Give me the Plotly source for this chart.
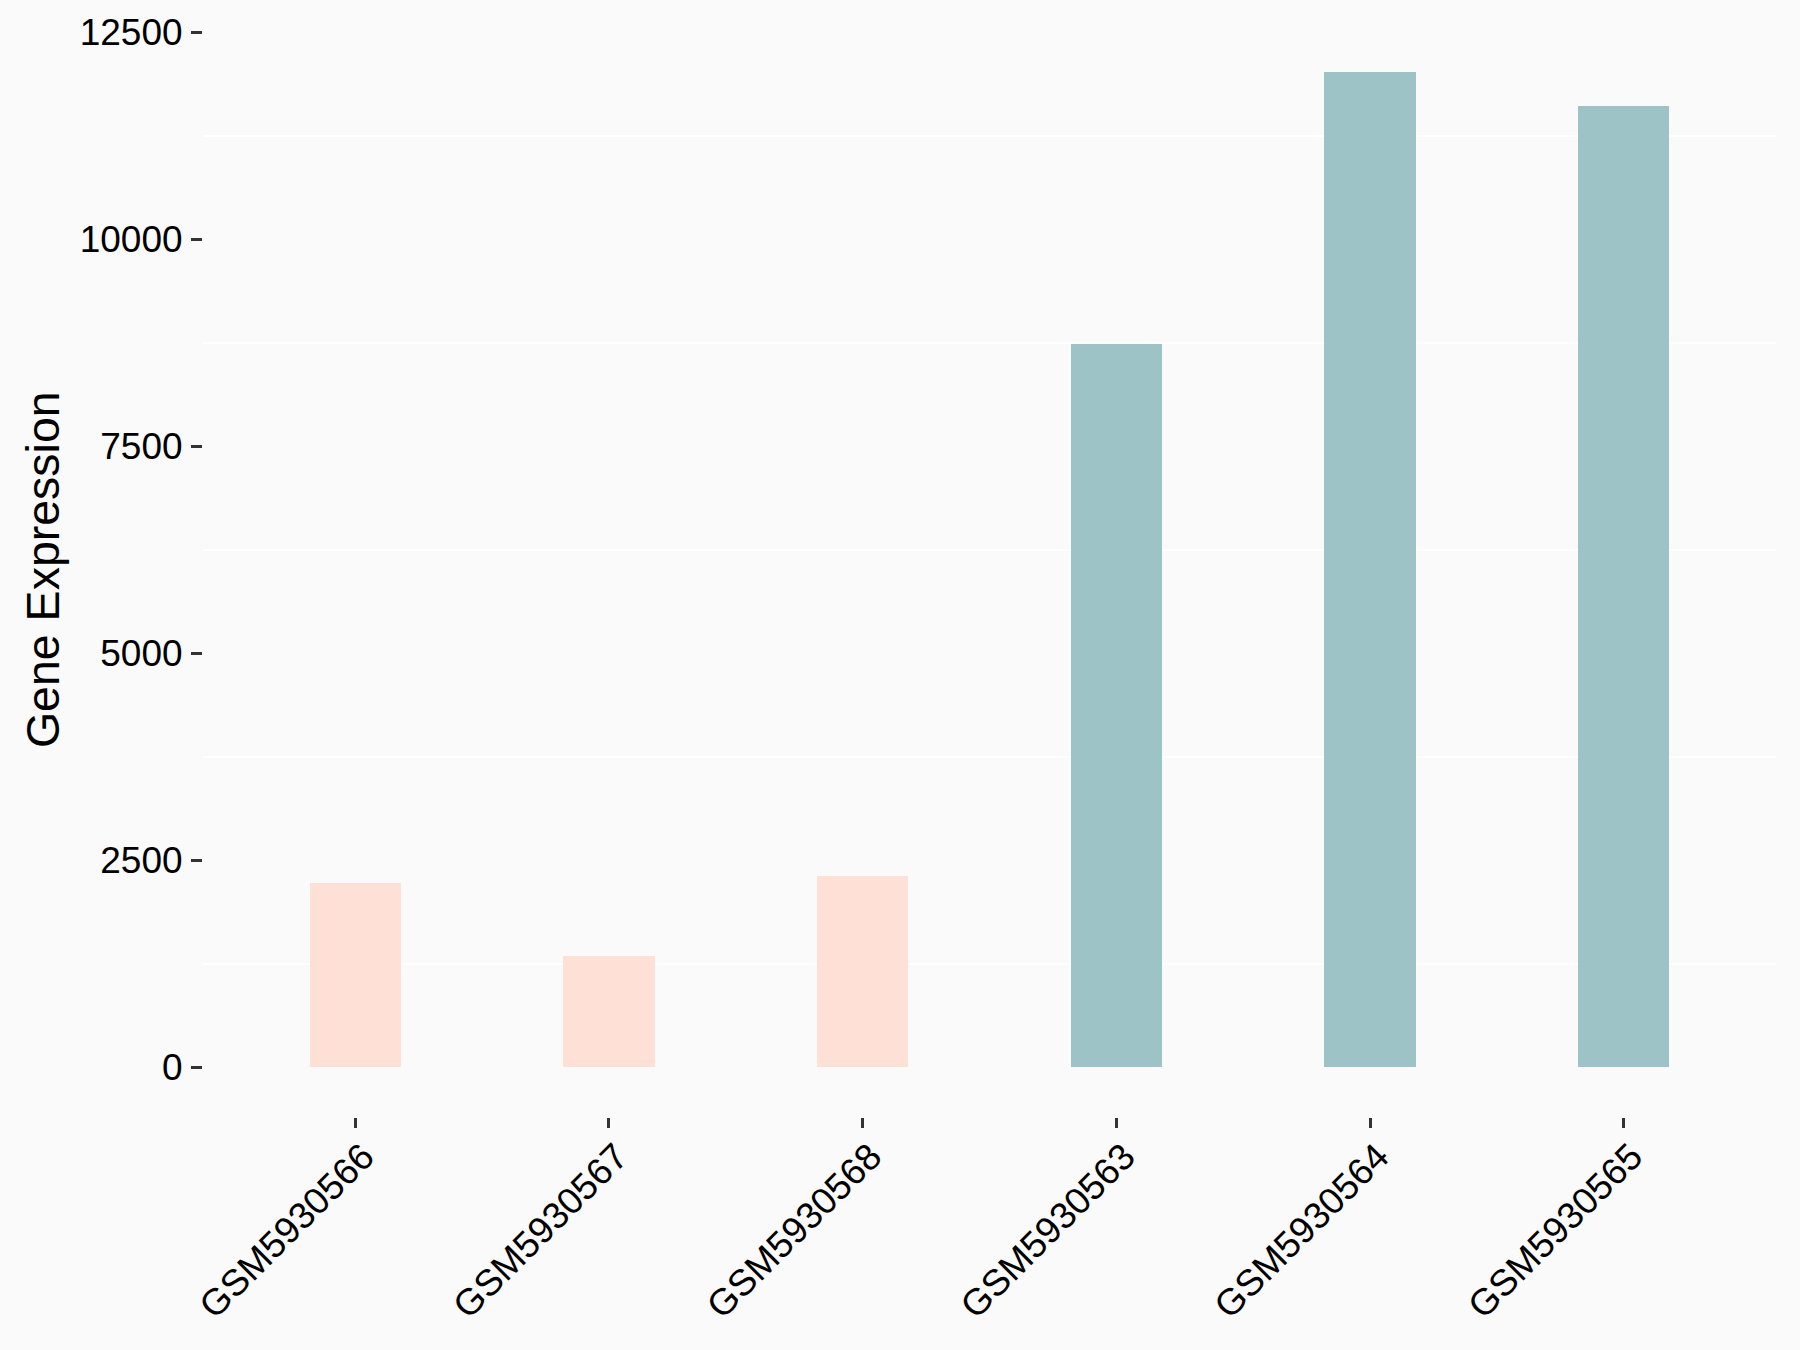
import plotly.graph_objects as go

samples = ["GSM5930566", "GSM5930567", "GSM5930568", "GSM5930563", "GSM5930564", "GSM5930565"]
expression = [2220, 1347, 2313, 8740, 12023, 11612]
groups = ["A", "A", "A", "B", "B", "B"]
group_colors = {"A": "#FFE0D6", "B": "#9DC3C7"}
y_ticks = [0, 2500, 5000, 7500, 10000, 12500]
y_title = "Gene Expression"

fig = go.Figure()
fig.add_trace(go.Bar(
    x=samples,
    y=expression,
    marker=dict(color=[group_colors[g] for g in groups], line=dict(width=0)),
    width=0.36,
    showlegend=False,
))

ymax = max(expression)
fig.update_layout(
    width=1800, height=1350,
    paper_bgcolor="#FAFAFA", plot_bgcolor="#FAFAFA",
    margin=dict(l=195, r=32, t=14, b=241, autoexpand=False),
    font=dict(family="Liberation Sans, Arial, sans-serif", color="black"),
    bargap=0,
)
fig.update_xaxes(
    automargin=False,
    range=[-0.6, len(samples) - 0.4],
    showgrid=False, zeroline=False, showline=False,
    ticks="outside", ticklen=10, tickwidth=2.5, tickcolor="#333333",
    tickangle=-45, tickfont=dict(size=37, color="black"),
    ticklabelstandoff=-8, ticklabelshift=8,
)
fig.update_yaxes(
    automargin=False,
    range=[-0.05 * ymax, 1.05 * ymax],
    tickvals=y_ticks, ticktext=[str(v) for v in y_ticks],
    showgrid=False, zeroline=False, showline=False,
    ticks="outside", ticklen=11, tickwidth=2.5, tickcolor="#333333",
    tickfont=dict(size=37, color="black"),
    ticklabelstandoff=1,
    minor=dict(tick0=1250, dtick=2500, showgrid=True, gridcolor="#FFFFFF", gridwidth=2, ticks=""),
)
fig.add_annotation(
    text=y_title, xref="paper", yref="paper", x=-0.102, y=0.5,
    xanchor="center", yanchor="middle", textangle=-90, showarrow=False,
    font=dict(size=46.5, color="black"),
)

fig.write_html("out.html", post_script="document.body.style.background='#FAFAFA';")
